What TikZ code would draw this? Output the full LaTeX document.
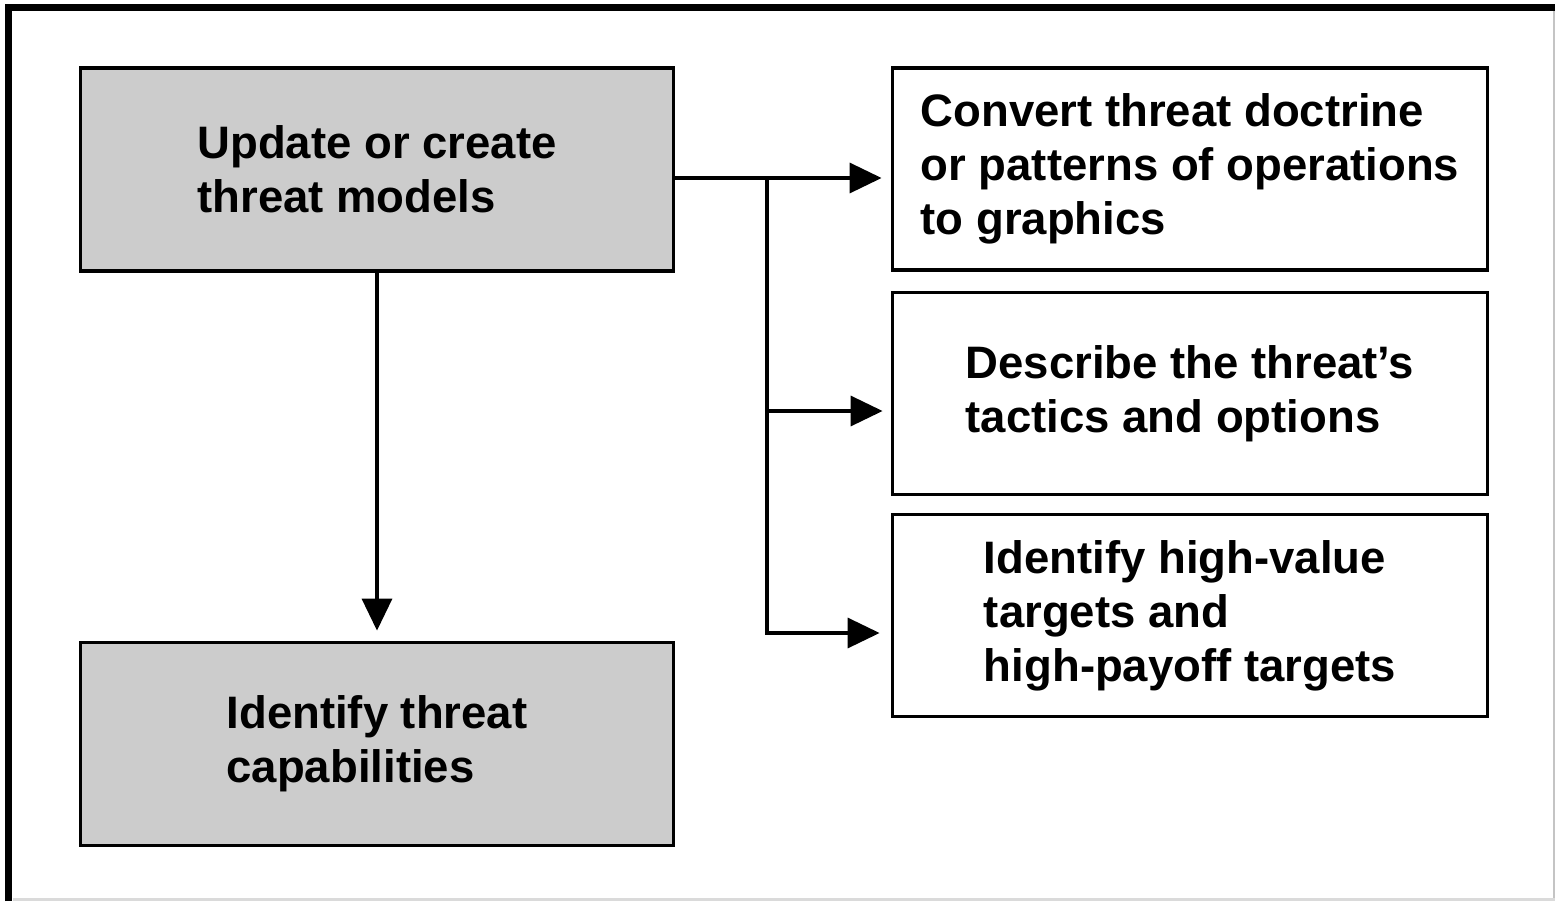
\documentclass[tikz,border=0pt]{standalone}
\usepackage{fontspec}
\setmainfont{Liberation Sans}
\usetikzlibrary{arrows.meta}
\definecolor{boxgray}{HTML}{CCCCCC}
\definecolor{edgegray}{HTML}{C4C4C4}
\definecolor{baseGray}{HTML}{DADADA}
\begin{document}
\begin{tikzpicture}[x=0.5pt,y=-0.5pt,
  box/.style={draw=black, line width=1.9pt, align=left, inner sep=0pt,
    font=\fontsize{22.75pt}{27pt}\selectfont\bfseries},
  leftbox/.style={box, fill=boxgray, minimum width=296.5pt, minimum height=101.5pt},
  rightbox/.style={box, fill=white, minimum width=297.5pt, minimum height=101pt},
  link/.style={line width=1.7pt},
  flow/.style={link, -{Triangle[length=16pt,width=15pt]}}]
  \useasboundingbox (0,0) rectangle (1555,901);

  % page frame
  \draw[line width=3.5pt] (8.5,901) -- (8.5,7.5) -- (1555,7.5);
  \draw[edgegray, line width=1.2pt] (1554,11) -- (1554,901);
  \draw[baseGray, line width=1.5pt] (13,899.5) -- (1555,899.5);

  % boxes
  \node[leftbox] (a) at (377,169.5) {Update or create\\threat models};
  \node[leftbox] (b) at (377,744) {Identify threat\\capabilities};
  \node[rightbox] (c) at (1190,169) {Convert threat doctrine\\or patterns of operations\\to graphics};
  \node[rightbox] (d) at (1190,393.5) {Describe the threat’s\\tactics and options};
  \node[rightbox] (e) at (1190,615.5) {Identify high-value\\targets and\\high-payoff targets};

  % branch points
  \coordinate (j1) at (767,178);
  \coordinate (j2) at (767,411);
  \coordinate (j3) at (767,633);

  % connectors
  \draw[flow, shorten >=4.5pt] (j1 -| a.east) -- (j1 -| c.west);
  \draw[flow, shorten >=4pt] (j2) -- (j2 -| d.west);
  \draw[flow, shorten >=5.5pt] (j1) -- (j3) -- (j3 -| e.west);
  \draw[flow, shorten >=5pt] (a.south) -- (b.north);
\end{tikzpicture}
\end{document}
